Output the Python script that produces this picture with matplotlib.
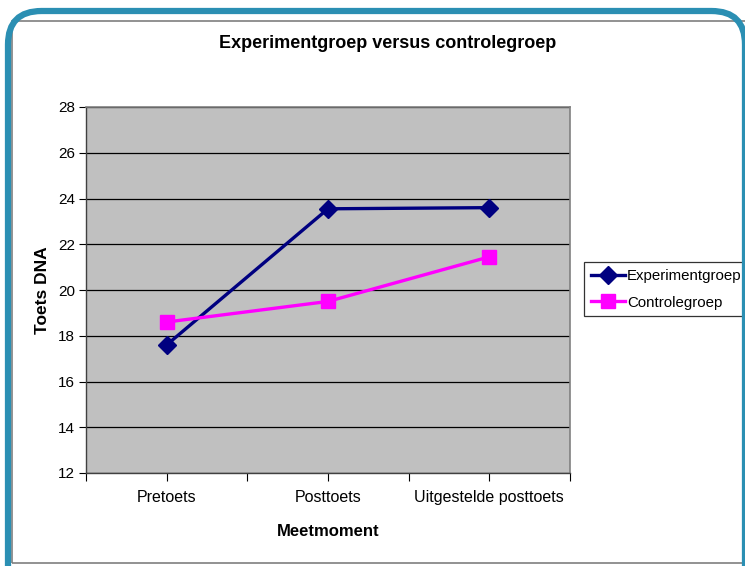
import matplotlib
matplotlib.use("Agg")
import matplotlib.pyplot as plt
from matplotlib.patches import FancyBboxPatch, Rectangle

# data
momenten = ['Pretoets', 'Posttoets', 'Uitgestelde posttoets']
experiment = [17.6, 23.55, 23.6]
controle = [18.6, 19.5, 21.45]
y_ticks = [12, 14, 16, 18, 20, 22, 24, 26, 28]

plt.rcParams['font.family'] = ['Liberation Sans', 'DejaVu Sans']

W, H = 745, 566
fig = plt.figure(figsize=(W / 100, H / 100), dpi=100)
fig.patch.set_facecolor('white')

# outer rounded teal frame + inner grey chart border (pixel coords -> figure fraction)
def fx(px): return px / W
def fy(py): return 1 - py / H

fig.patches.append(Rectangle((fx(12), fy(563)), fx(760) - fx(12), fy(21) - fy(563),
                             transform=fig.transFigure, fill=False,
                             edgecolor='#7f7f7f', linewidth=1.2))
frame = FancyBboxPatch((fx(8), fy(640)), fx(745) - fx(8), fy(11) - fy(640),
                       boxstyle="round,pad=0,rounding_size=0.045",
                       transform=fig.transFigure, fill=False,
                       edgecolor='#2b8fb3', linewidth=4.5, mutation_aspect=W / H)
fig.patches.append(frame)

ax = fig.add_axes([fx(86), fy(473), fx(570) - fx(86), fy(107) - fy(473)])
ax.set_facecolor('#c0c0c0')

x = list(range(len(momenten)))
ax.plot(x, experiment, color='#000080', linewidth=2.4, marker='D',
        markersize=9, label='Experimentgroep', zorder=3)
ax.plot(x, controle, color='#ff00ff', linewidth=2.4, marker='s',
        markersize=9.5, label='Controlegroep', zorder=3)

ax.set_xlim(-0.5, 2.5)
ax.set_ylim(12, 28)
ax.set_yticks(y_ticks)
ax.set_yticklabels([str(v) for v in y_ticks], fontsize=11)
ax.yaxis.grid(True, color='black', linewidth=0.9)
ax.set_axisbelow(True)

ax.set_xticks(x)
ax.set_xticklabels(momenten, fontsize=11.5)
ax.set_xticks([-0.5, 0.5, 1.5, 2.5], minor=True)
ax.tick_params(axis='x', which='both', length=6, width=0.8, direction='out', pad=6)
ax.tick_params(axis='y', length=5, width=0.8, direction='out', pad=3)

for s in ['top', 'right']:
    ax.spines[s].set_color('#808080')
    ax.spines[s].set_linewidth(1.2)
for s in ['left', 'bottom']:
    ax.spines[s].set_color('#404040')
    ax.spines[s].set_linewidth(1.0)

ax.set_xlabel('Meetmoment', fontsize=12, fontweight='bold', labelpad=14)
ax.set_ylabel('Toets DNA', fontsize=12.5, fontweight='bold', labelpad=6)
fig.text(fx(388), fy(44), 'Experimentgroep versus controlegroep',
         ha='center', va='center', fontsize=13, fontweight='bold')

leg = ax.legend(loc='upper left', bbox_to_anchor=(fx(584), fy(262)),
                bbox_transform=fig.transFigure, borderaxespad=0,
                fontsize=10.8, frameon=True, fancybox=False,
                edgecolor='black', handlelength=2.3, handletextpad=0.1,
                labelspacing=0.85, borderpad=0.45)
leg.get_frame().set_linewidth(0.9)

fig.savefig('out.png', dpi=100)
